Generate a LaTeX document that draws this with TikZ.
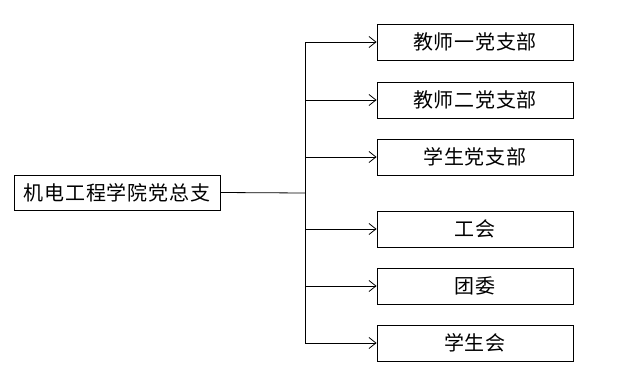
\documentclass[tikz,border=0pt]{standalone}
\usepackage{fontspec}
\newfontfamily\cjk[LetterSpace=4]{Noto Sans CJK SC}
\usetikzlibrary{arrows.meta}
\tikzset{unitbox/.style={draw, line width=0.8pt, minimum width=196pt, minimum height=36pt, inner sep=0pt}}
\begin{document}
\begin{tikzpicture}[x=1pt,y=-1pt, every node/.style={font=\cjk\fontsize{20}{20}\selectfont}]
        \useasboundingbox (0,0) rectangle (632,388);
        \node[unitbox, minimum width=206pt, minimum height=35pt] (root) at (117,192.5) {机电工程学院党总支};
        \coordinate (trunk) at (305,193);
        
        \foreach \y/\name/\txt in {42/dept1/教师一党支部,100/dept2/教师二党支部,157/dept3/学生党支部,
                                   229/union/工会,286/league/团委,343/stu/学生会}{
            \node[unitbox] (\name) at (475,\y) {\txt};
            \draw[line width=0.8pt, -{Straight Barb[length=7pt,width=11pt]}] (\name.west -| trunk) -- (\name.west);
        }
        
        % trunk and the line from the root box
        \draw[line width=0.8pt] (dept1.west -| trunk) -- (stu.west -| trunk);
        \draw[line width=0.8pt] (root.east) -- (trunk);
    \end{tikzpicture}
\end{document}
